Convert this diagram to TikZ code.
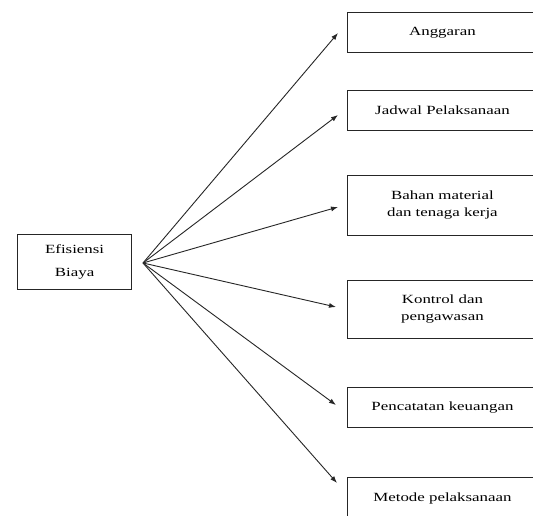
\documentclass[tikz,border=0pt]{standalone}
\usepackage{fontspec}
\setmainfont{Liberation Serif}
\newfontfamily\wideserif[FakeStretch=1.35]{Liberation Serif}
\usetikzlibrary{arrows.meta}
\begin{document}
\begin{tikzpicture}[x=1pt,y=-1pt,
  rbox/.style={draw=black!85,line width=0.9pt,anchor=north west,minimum width=190pt,
    inner sep=0pt,align=center,font=\wideserif\fontsize{12.5}{17}\selectfont},
  lbox/.style={draw=black!85,line width=1.2pt,anchor=north west,minimum width=114pt,
    minimum height=55pt,inner sep=0pt,align=center,font=\wideserif\fontsize{12.5}{23}\selectfont},
  arr/.style={draw=black!85,line width=0.9pt,-{Latex[length=7pt,width=5pt]}}]
\clip (0,0) rectangle (533,516);
\useasboundingbox (0,0) rectangle (533,516);
\fill[white] (0,0) rectangle (533,516);
\node[lbox] (src) at (17,234) {Efisiensi\\Biaya};
\node[rbox,minimum height=40pt] (b1) at (347,12) {Anggaran};
\node[rbox,minimum height=40pt] (b2) at (347,90) {Jadwal Pelaksanaan};
\node[rbox,minimum height=60pt] (b3) at (347,175) {Bahan material\\dan tenaga kerja};
\node[rbox,minimum height=58pt] (b4) at (347,280) {Kontrol dan\\pengawasan};
\node[rbox,minimum height=40pt] (b5) at (347,387) {Pencatatan keuangan};
\node[rbox,minimum height=42pt,text depth=0pt] (b6) at (347,477) {\raisebox{3pt}{Metode pelaksanaan}};
\coordinate (fan) at (143,263);
\coordinate (t1) at (338,33);
\coordinate (t2) at (338,115);
\coordinate (t3) at (338,207);
\coordinate (t4) at (336,307);
\coordinate (t5) at (336,405);
\coordinate (t6) at (337,483);
\foreach \i in {1,...,6}{\draw[arr] (fan) -- (t\i);}
\end{tikzpicture}
\end{document}
